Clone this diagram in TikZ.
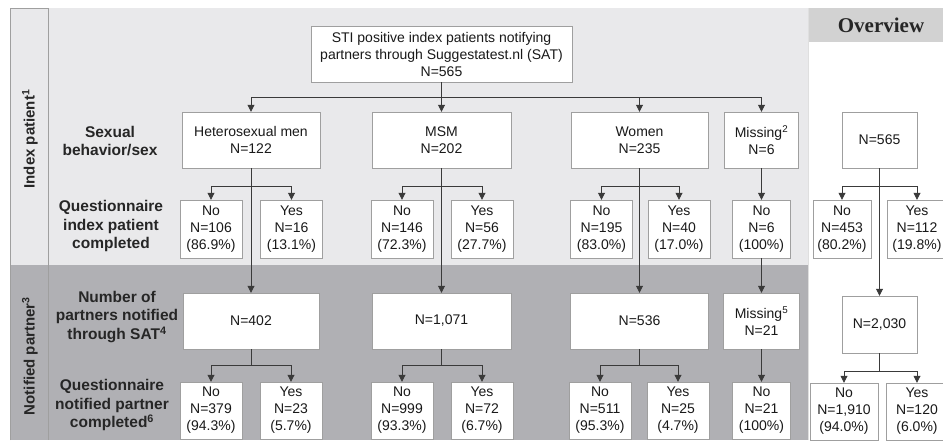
\documentclass[tikz,border=0pt]{standalone}
\usepackage{fontspec}
\setmainfont{Liberation Sans}
\newfontfamily\ovfont{Liberation Serif}
\usetikzlibrary{arrows.meta}
\definecolor{bandlight}{HTML}{E9E9EB}
\definecolor{banddark}{HTML}{B0B0B4}
\definecolor{ovhead}{HTML}{D2D2D2}
\definecolor{linegray}{HTML}{3A3A3A}
\tikzset{box/.style={draw=gray!75, fill=white, align=center, inner sep=0pt, text=black!90,
    font=\fontsize{14}{17}\selectfont, minimum height=56pt},
% small yes/no boxes
yn/.style={box, minimum width=62pt, minimum height=58pt},
rowlabel/.style={align=center, text=black!85, font=\bfseries\fontsize{15.5}{18.5}\selectfont},
sidelabel/.style={rotate=90, text=black!85, font=\bfseries\fontsize{15}{18}\selectfont},
arr/.style={draw=linegray, line width=0.8pt, -{Triangle[width=7pt,length=7pt]}}}

\begin{document}
\begin{tikzpicture}[x=1pt, y=-1pt]
        \useasboundingbox (0,0) rectangle (943,440);

        % bands
        \fill[bandlight] (10,8) rectangle (808,265);
        \fill[banddark] (10,265) rectangle (808,440);
        \draw[gray!75, line width=0.8pt] (10,440) -- (10,8) -- (48,8) -- (48,440);
        \fill[ovhead] (808,8) rectangle (943,42);
        \draw[gray!25, line width=1pt] (808,8) -- (808,440);
        \node[font=\ovfont\bfseries\fontsize{21}{24}\selectfont, text=black!85] (ovtitle) at (881,25) {Overview};

        % side and row labels
        \node[sidelabel] (idxlab) at (30,139) {Index patient\textsuperscript{1}};
        \node[sidelabel] (notlab) at (30,356) {Notified partner\textsuperscript{3}};
        \node[rowlabel] (lsex) at (110,141) {Sexual\\behavior/sex};
        \node[rowlabel] (lqidx) at (111,226) {Questionnaire\\index patient\\completed};
        \node[rowlabel] (lnum) at (117,317) {Number of\\partners notified\\through SAT\textsuperscript{4}};
        \node[rowlabel] (lqnot) at (112,405) {Questionnaire\\notified partner\\completed\textsuperscript{6}};

        % index patients
        \node[box, minimum width=261pt] (top) at (441.5,54) {STI positive index patients notifying\\partners through Suggestatest.nl (SAT)\\N=565};
        \node[box, minimum width=138pt] (het) at (251,140) {Heterosexual men\\N=122};
        \node[box, minimum width=139pt] (msm) at (441.5,140) {MSM\\N=202};
        \node[box, minimum width=137pt] (wom) at (639.5,140) {Women\\N=235};
        \node[box, minimum width=74pt] (miss) at (761.5,140) {Missing\textsuperscript{2}\\N=6};
        \node[box, minimum width=75pt] (ovall) at (879.5,140) {N=565};

        \node[yn] (hetno) at (211,229) {No\\N=106\\(86.9\%)};
        \node[yn] (hetyes) at (291.5,229) {Yes\\N=16\\(13.1\%)};
        \node[yn] (msmno) at (402,229) {No\\N=146\\(72.3\%)};
        \node[yn] (msmyes) at (482,229) {Yes\\N=56\\(27.7\%)};
        \node[yn] (womno) at (601.5,229) {No\\N=195\\(83.0\%)};
        \node[yn] (womyes) at (679,229) {Yes\\N=40\\(17.0\%)};
        \node[yn, minimum width=58pt] (missno) at (761.5,229) {No\\N=6\\(100\%)};
        \node[yn, minimum width=58pt] (ovno) at (842,229) {No\\N=453\\(80.2\%)};
        \node[yn, minimum width=60pt] (ovyes) at (917,229) {Yes\\N=112\\(19.8\%)};

        % notified partners
        \node[box, minimum width=136pt] (het402) at (251,321) {N=402};
        \node[box, minimum width=139pt] (msm1071) at (441.5,321) {N=1,071};
        \node[box, minimum width=138pt] (wom536) at (639.5,321) {N=536};
        \node[box, minimum width=76pt] (miss21) at (761.5,321) {Missing\textsuperscript{5}\\N=21};
        \node[box, minimum width=75pt, minimum height=57pt] (ov2030) at (879.5,324.5) {N=2,030};

        \node[yn, minimum height=57pt] (hetno2) at (211,410.5) {No\\N=379\\(94.3\%)};
        \node[yn, minimum height=57pt] (hetyes2) at (291,410.5) {Yes\\N=23\\(5.7\%)};
        \node[yn, minimum height=57pt] (msmno2) at (402,410.5) {No\\N=999\\(93.3\%)};
        \node[yn, minimum height=57pt] (msmyes2) at (482,410.5) {Yes\\N=72\\(6.7\%)};
        \node[yn, minimum height=57pt] (womno2) at (600,410.5) {No\\N=511\\(95.3\%)};
        \node[yn, minimum height=57pt] (womyes2) at (678,410.5) {Yes\\N=25\\(4.7\%)};
        \node[yn, minimum width=58pt, minimum height=57pt] (missno2) at (761.5,410.5) {No\\N=21\\(100\%)};
        \node[yn, minimum width=68pt, minimum height=57pt] (ovno2) at (844,411.5) {No\\N=1,910\\(94.0\%)};
        \node[yn, minimum width=62pt, minimum height=57pt] (ovyes2) at (917,411.5) {Yes\\N=120\\(6.0\%)};

        % arrows
        \foreach \n in {het,msm,wom,miss}{
            \draw[arr] (top.south) -- ++(0,15) -| (\n);
        }
        \foreach \p/\c in {het/hetno, het/hetyes, msm/msmno, msm/msmyes, wom/womno, wom/womyes, ovall/ovno, ovall/ovyes}{
            \draw[arr] (\p.south) -- ++(0,18) -| (\c);
        }
        \foreach \p/\c in {het402/hetno2, het402/hetyes2, msm1071/msmno2, msm1071/msmyes2, wom536/womno2, wom536/womyes2}{
            \draw[arr] (\p.south) -- ++(0,16) -| (\c);
        }
        \foreach \c in {ovno2,ovyes2}{
            \draw[arr] (ov2030.south) -- ++(0,18) -| (\c);
        }
        \foreach \p/\c in {het/het402, msm/msm1071, wom/wom536, miss/missno, missno/miss21, miss21/missno2, ovall/ov2030}{
            \draw[arr] (\p.south) -- (\c.north);
        }

    \end{tikzpicture}
\end{document}
